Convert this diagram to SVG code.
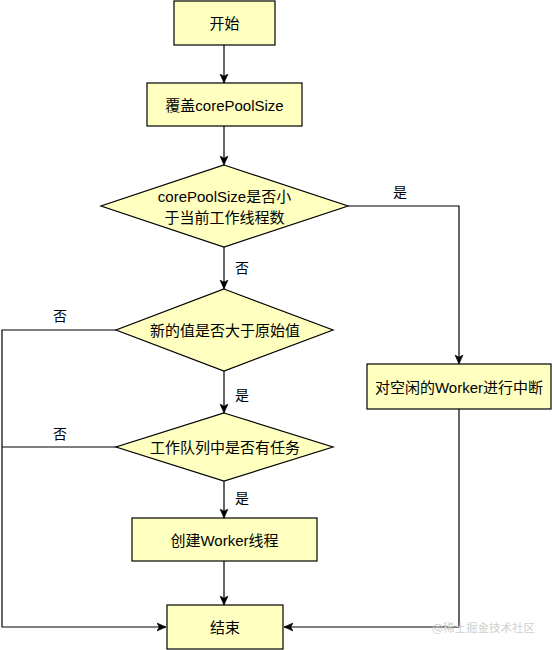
<svg xmlns="http://www.w3.org/2000/svg" width="552" height="650" viewBox="0 0 552 650">
<style>
.box{fill:#ffffc0;stroke:#000;stroke-width:1.2}
.t{font-family:"Liberation Sans","Noto Sans CJK SC",sans-serif;font-size:15px;fill:#000;text-anchor:middle;dominant-baseline:central}
.lbl{font-family:"Liberation Sans","Noto Sans CJK SC",sans-serif;font-size:14px;fill:#000;text-anchor:middle;dominant-baseline:central}
.e{fill:none;stroke:#000;stroke-width:1.2}
.wm{font-family:"Noto Sans CJK SC",sans-serif;font-size:11.5px;fill:#cfcfcf;text-anchor:end;dominant-baseline:central}
</style>
<defs>
<marker id="arr" markerWidth="10" markerHeight="10" refX="9" refY="5" orient="auto" markerUnits="userSpaceOnUse">
<path d="M0,1 L9,5 L0,9 L2.2,5 Z" fill="#000" stroke="#000" stroke-width="0.6"/>
</marker>
</defs>
<rect width="552" height="650" fill="#fff"/>
<g id="connectors">
<path class="e" d="M224,45 V83" marker-end="url(#arr)"/>
<path class="e" d="M224,126 V165" marker-end="url(#arr)"/>
<path class="e" d="M224,247 V289" marker-end="url(#arr)"/>
<path class="e" d="M348,206 H459 V364" marker-end="url(#arr)"/>
<path class="e" d="M224,371 V413" marker-end="url(#arr)"/>
<path class="e" d="M116,330 H2 V627 H166" marker-end="url(#arr)"/>
<path class="e" d="M116,447 H2"/>
<path class="e" d="M224,481 V518" marker-end="url(#arr)"/>
<path class="e" d="M224,561 V605" marker-end="url(#arr)"/>
<path class="e" d="M459,409 V627 H284" marker-end="url(#arr)"/>
<text class="lbl" x="400" y="192">是</text>
<text class="lbl" x="242" y="268">否</text>
<text class="lbl" x="60" y="316">否</text>
<text class="lbl" x="242" y="395">是</text>
<text class="lbl" x="60" y="434">否</text>
<text class="lbl" x="242" y="498">是</text>
</g>
<g id="start">
<rect class="box" x="174" y="1" width="101" height="44"/>
<text class="t" x="224.5" y="23">开始</text>
</g>
<g id="override">
<rect class="box" x="147" y="83" width="155" height="43"/>
<text class="t" x="224.5" y="105">覆盖corePoolSize</text>
</g>
<g id="decision1">
<polygon class="box" points="224,165 348,206 224,247 101,206"/>
<text class="t" x="224.5" y="196">corePoolSize是否小</text>
<text class="t" x="224.5" y="217">于当前工作线程数</text>
</g>
<g id="decision2">
<polygon class="box" points="224,289 333,330 224,371 116,330"/>
<text class="t" x="225" y="330">新的值是否大于原始值</text>
</g>
<g id="decision3">
<polygon class="box" points="224,413 333,447 224,481 116,447"/>
<text class="t" x="225" y="447">工作队列中是否有任务</text>
</g>
<g id="interrupt">
<rect class="box" x="367" y="364" width="184" height="45"/>
<text class="t" x="459" y="387">对空闲的Worker进行中断</text>
</g>
<g id="create">
<rect class="box" x="132" y="518" width="185" height="43"/>
<text class="t" x="224.5" y="540">创建Worker线程</text>
</g>
<g id="end">
<rect class="box" x="167" y="605" width="116" height="44"/>
<text class="t" x="225" y="627">结束</text>
</g>
<text class="wm" x="535" y="627">@稀土掘金技术社区</text>
</svg>
